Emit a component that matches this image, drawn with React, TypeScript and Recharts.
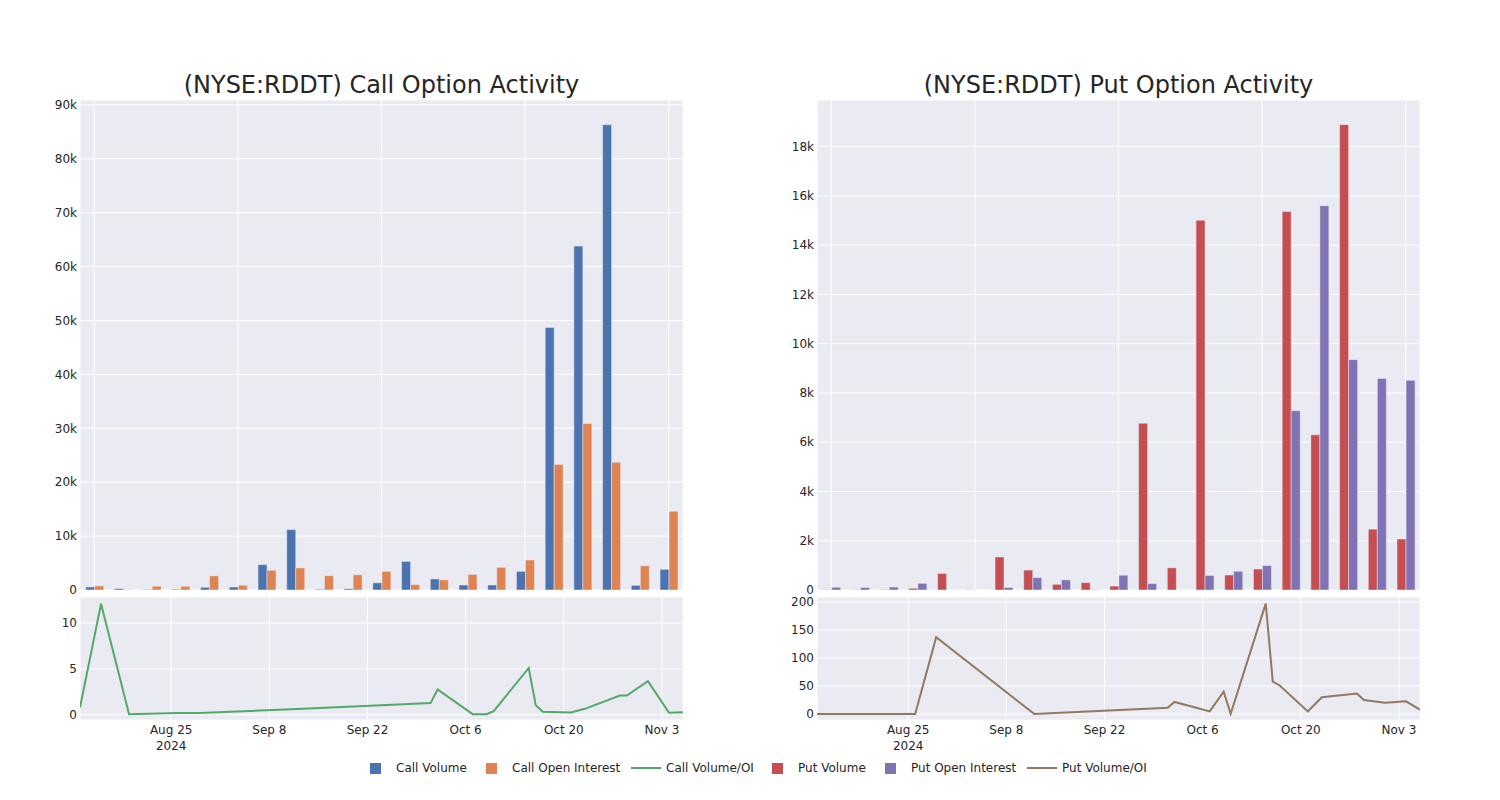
import React from 'react';
import { BarChart, Bar, LineChart, Line, XAxis, YAxis, CartesianGrid } from 'recharts';

const dates = [
  '2024-08-12', '2024-08-15', '2024-08-19', '2024-08-26', '2024-08-29', '2024-09-12',
  '2024-10-01', '2024-10-02', '2024-10-07', '2024-10-09', '2024-10-10', '2024-10-15',
  '2024-10-16', '2024-10-17', '2024-10-21', '2024-10-23', '2024-10-28', '2024-10-29',
  '2024-11-01', '2024-11-04', '2024-11-06',
];

const callVolume = [560, 250, 60, 130, 500, 560, 4700, 11200, 130, 230, 1330, 5300, 2050, 930, 930, 3450, 48700, 63800, 86300, 870, 3830];
const callOpenInterest = [760, 20, 700, 700, 2620, 880, 3650, 4100, 2650, 2820, 3450, 1000, 1870, 2900, 4200, 5560, 23300, 30900, 23700, 4500, 14600];
const callRatio = [0.8, 12.1, 0.05, 0.2, 0.18, 0.62, 1.27, 2.76, 0.07, 0.07, 0.4, 5.1, 1.05, 0.33, 0.25, 0.65, 2.1, 2.1, 3.67, 0.22, 0.28];

const putVolume = [10, 10, 10, 70, 670, 5, 1340, 810, 230, 300, 160, 6770, 900, 15010, 610, 850, 15360, 6300, 18890, 2470, 2070];
const putOpenInterest = [110, 100, 120, 270, 0, 0, 100, 500, 410, 10, 600, 260, 0, 590, 760, 990, 7280, 15600, 9350, 8590, 8510];
const putRatio = [0, 0, 0, 0, 137, 0, 11, 21.5, 4.7, 40, 0.5, 197, 58, 51, 4.7, 30, 36.4, 25, 20.3, 22.6, 7.7];

const dateTicks = ['2024-08-25', '2024-09-08', '2024-09-22', '2024-10-06', '2024-10-20', '2024-11-03'];
const callBarTicks = [0, 10000, 20000, 30000, 40000, 50000, 60000, 70000, 80000, 90000];
const putBarTicks = [0, 2000, 4000, 6000, 8000, 10000, 12000, 14000, 16000, 18000];
const callRatioTicks = [0, 5, 10];
const putRatioTicks = [0, 50, 100, 150, 200];

const MONTHS = ['Jan', 'Feb', 'Mar', 'Apr', 'May', 'Jun', 'Jul', 'Aug', 'Sep', 'Oct', 'Nov', 'Dec'];
const toTs = (d: string) => Date.UTC(+d.slice(0, 4), +d.slice(5, 7) - 1, +d.slice(8, 10));
const tickTs = dateTicks.map(toTs);
const xDomain = [toTs(dates[0]), toTs(dates[dates.length - 1])];

const TEXT = '#262626';
const BG = '#EAEAF2';
const FONT = 'DejaVu Sans';

const callBarData = dates.map((d, i) => ({ date: d, a: callVolume[i], b: callOpenInterest[i] }));
const putBarData = dates.map((d, i) => ({ date: d, a: putVolume[i], b: putOpenInterest[i] }));
const callLineData = dates.map((d, i) => ({ t: toTs(d), r: callRatio[i] }));
const putLineData = dates.map((d, i) => ({ t: toTs(d), r: putRatio[i] }));

const kFmt = (v: number) => (v === 0 ? '0' : `${v / 1000}k`);

const EmptyTick = () => <g />;

const DateTick = (props: any) => {
  const { x, y, payload } = props;
  const dt = new Date(payload.value);
  const label = `${MONTHS[dt.getUTCMonth()]} ${dt.getUTCDate()}`;
  const first = payload.value === tickTs[0];
  return (
    <g>
      <text x={x} y={y} dy="0.71em" textAnchor="middle" fill={TEXT} fontSize={12} fontFamily={FONT}>{label}</text>
      {first && (
        <text x={x} y={y + 16} dy="0.71em" textAnchor="middle" fill={TEXT} fontSize={12} fontFamily={FONT}>2024</text>
      )}
    </g>
  );
};

type PanelProps = {
  plotLeft: number;
  title: string;
  barData: any[];
  colA: string;
  colB: string;
  barMax: number;
  barTicks: number[];
  lineData: any[];
  lineColor: string;
  lineDomain: number[];
  lineTicks: number[];
};

const AXW = 60;
const PLOTW = 603;

function Panel(p: PanelProps) {
  const left = p.plotLeft - AXW;
  const tickStyle = { fill: TEXT, fontSize: 12, fontFamily: FONT };
  return (
    <>
      <div
        style={{
          position: 'absolute', left: p.plotLeft, top: 69, width: PLOTW, textAlign: 'center',
          fontSize: 24, color: TEXT, fontFamily: FONT, lineHeight: '32px', whiteSpace: 'nowrap',
        }}
      >
        {p.title}
      </div>
      <div style={{ position: 'absolute', left, top: 90 }}>
        <BarChart
          width={AXW + PLOTW}
          height={511}
          data={p.barData}
          margin={{ top: 10, right: 0, bottom: 10, left: 0 }}
          barCategoryGap="20%"
          barGap={0}
        >
          <CartesianGrid fill={BG} stroke="#ffffff" strokeWidth={1} />
          <XAxis dataKey="date" type="category" interval={4} tick={<EmptyTick />} tickLine={false} axisLine={false} height={1} />
          <YAxis
            width={AXW}
            domain={[0, p.barMax]}
            ticks={p.barTicks}
            interval={0}
            allowDataOverflow
            tickFormatter={kFmt}
            tick={tickStyle}
            tickLine={false}
            axisLine={false}
            tickSize={0}
            tickMargin={3}
          />
          <Bar dataKey="a" fill={p.colA} stroke={BG} strokeWidth={0.5} isAnimationActive={false} />
          <Bar dataKey="b" fill={p.colB} stroke={BG} strokeWidth={0.5} isAnimationActive={false} />
        </BarChart>
      </div>
      <div style={{ position: 'absolute', left, top: 587 }}>
        <LineChart
          width={AXW + PLOTW}
          height={173}
          data={p.lineData}
          margin={{ top: 10, right: 0, bottom: 0, left: 0 }}
        >
          <CartesianGrid fill={BG} stroke="#ffffff" strokeWidth={1} />
          <XAxis
            dataKey="t"
            type="number"
            domain={xDomain}
            ticks={tickTs}
            allowDataOverflow
            tick={<DateTick />}
            tickLine={false}
            axisLine={false}
            tickSize={0}
            tickMargin={5}
            height={40}
            interval={0}
          />
          <YAxis
            width={AXW}
            domain={p.lineDomain}
            ticks={p.lineTicks}
            interval={0}
            allowDataOverflow
            tick={tickStyle}
            tickLine={false}
            axisLine={false}
            tickSize={0}
            tickMargin={3}
          />
          <Line type="linear" dataKey="r" stroke={p.lineColor} strokeWidth={2} dot={false} isAnimationActive={false} />
        </LineChart>
      </div>
    </>
  );
}

const legendItems = [
  { label: 'Call Volume', color: '#4C72B0', kind: 'box', x: 370 },
  { label: 'Call Open Interest', color: '#DD8452', kind: 'box', x: 486 },
  { label: 'Call Volume/OI', color: '#55A868', kind: 'line', x: 631 },
  { label: 'Put Volume', color: '#C44E52', kind: 'box', x: 772 },
  { label: 'Put Open Interest', color: '#8172B3', kind: 'box', x: 885 },
  { label: 'Put Volume/OI', color: '#937860', kind: 'line', x: 1027 },
];

export default function App() {
  return (
    <div style={{ position: 'absolute', left: 0, top: 0, width: 1500, height: 800, background: '#ffffff', fontFamily: FONT, overflow: 'hidden' }}>
      <Panel
        plotLeft={80}
        title="(NYSE:RDDT) Call Option Activity"
        barData={callBarData}
        colA="#4C72B0"
        colB="#DD8452"
        barMax={90900}
        barTicks={callBarTicks}
        lineData={callLineData}
        lineColor="#55A868"
        lineDomain={[-0.57, 12.84]}
        lineTicks={callRatioTicks}
      />
      <Panel
        plotLeft={817}
        title="(NYSE:RDDT) Put Option Activity"
        barData={putBarData}
        colA="#C44E52"
        colB="#8172B3"
        barMax={19890}
        barTicks={putBarTicks}
        lineData={putLineData}
        lineColor="#937860"
        lineDomain={[-10.7, 208.9]}
        lineTicks={putRatioTicks}
      />
      {legendItems.map((it) => (
        <div key={it.label} style={{ position: 'absolute', left: it.x, top: 760, height: 16, display: 'flex', alignItems: 'center', whiteSpace: 'nowrap' }}>
          {it.kind === 'box' ? (
            <div style={{ width: 11, height: 11, background: it.color, marginRight: 15 }} />
          ) : (
            <div style={{ width: 30, height: 2, background: it.color, marginRight: 5 }} />
          )}
          <span style={{ fontSize: 12, color: TEXT, fontFamily: FONT }}>{it.label}</span>
        </div>
      ))}
    </div>
  );
}
